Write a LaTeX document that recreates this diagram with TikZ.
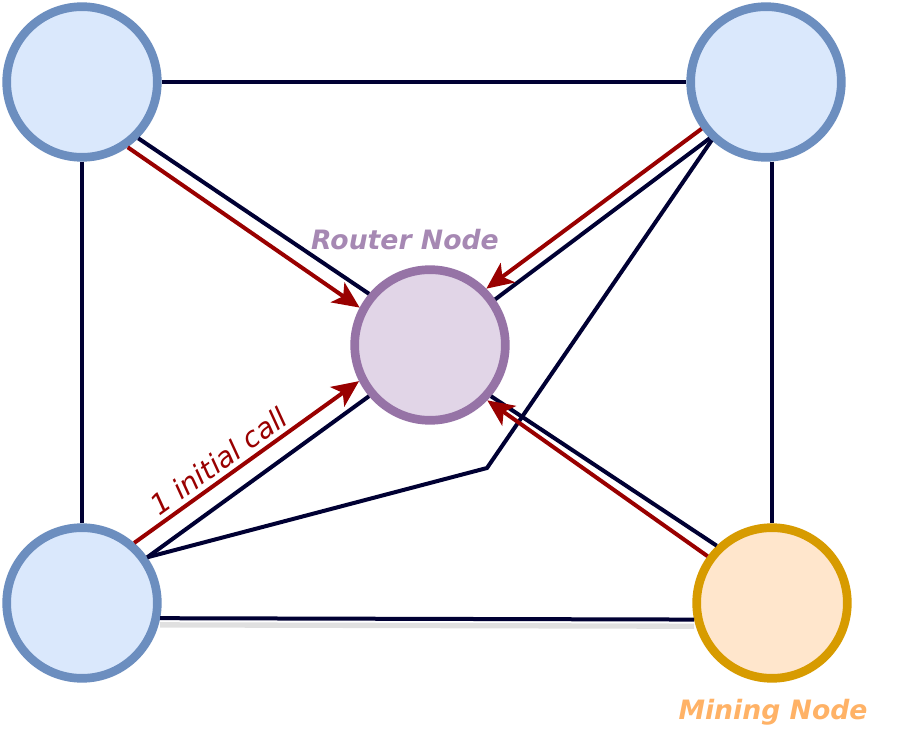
\documentclass[tikz,border=0pt]{standalone}
\usepackage{fontspec}
\setmainfont{DejaVu Sans}
\usetikzlibrary{arrows.meta}
\definecolor{peerfill}{HTML}{DAE8FC}
\definecolor{peerline}{HTML}{6C8EBF}
\definecolor{routerfill}{HTML}{E1D5E7}
\definecolor{routerline}{HTML}{9673A6}
\definecolor{minefill}{HTML}{FFE6CC}
\definecolor{mineline}{HTML}{D79B00}
\definecolor{link}{HTML}{000033}
\definecolor{call}{HTML}{990000}
\tikzset{
  peer/.style={circle, draw=peerline, fill=peerfill, line width=6.5pt, minimum size=113pt, inner sep=0pt},
  link/.style={draw=link, line width=3pt},
  call/.style={draw=call, line width=3pt, -{Stealth[length=20pt,width=18pt,inset=5pt]}},
}
\begin{document}
\begin{tikzpicture}[x=0.75pt,y=-0.75pt]
    \useasboundingbox (0,0) rectangle (915,756);
    % peers
    \node [peer] (tl) at (82,82) {};
    \node [peer] (tr) at (766,82) {};
    \node [peer] (bl) at (82,603) {};
    \node [peer, draw=mineline, fill=minefill] (br) at (772,603) {};
    \node [peer, draw=routerline, fill=routerfill] (router) at (430,345) {};
    \coordinate (kink) at (487,468);
    % mesh
    \draw [link] (tl.east) -- (tr.west);
    \draw [link] (tl.south) -- (bl.north);
    \draw [link] (tr.south -| br.north) -- (br.north);
    \draw [black!12, line width=4pt] ([yshift=-5pt]bl.-11) -- ([yshift=-5pt]br.192);
    \draw [link] (bl.-11) -- (br.192);
    \draw [link] (tl.-45) -- (router.140);
    \draw [link] (tr.225) -- (router.35);
    \draw [link] (bl.35) -- (router.220);
    \draw [link] (br.134) -- (router.-40);
    \draw [link] (tr.227) -- (kink) -- (bl.35);
    % calls to router
    \draw [call] (tl.-55) -- (router.152);
    \draw [call] (tr.216) -- (router.45);
    \draw [call] (bl.49) -- node [pos=0.42, sloped, above=0pt, text=call, font=\itshape\fontsize{21}{24}\selectfont] {1 initial call} (router.207);
    \draw [call] (br.144) -- (router.-44);
    % labels
    \node [text=routerline!85, font=\bfseries\itshape\fontsize{20}{24}\selectfont] (rlabel) at (405,240) {Router Node};
    \node [text=orange!60, font=\bfseries\itshape\fontsize{20}{24}\selectfont] (mlabel) at (773,712) {Mining Node};
\end{tikzpicture}
\end{document}
